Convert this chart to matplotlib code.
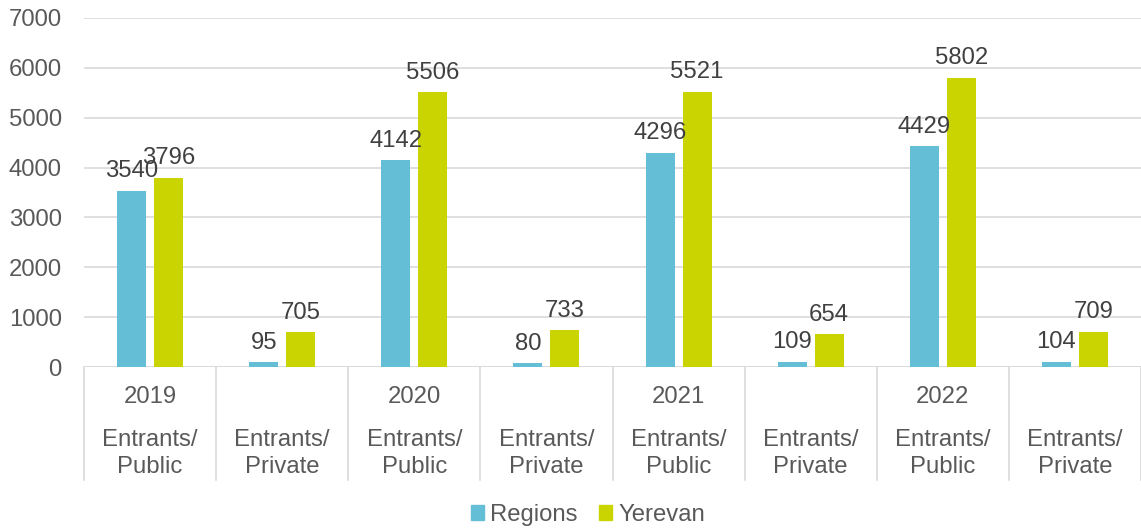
import matplotlib
matplotlib.use("Agg")
import matplotlib.pyplot as plt
import matplotlib.transforms as mtransforms
from matplotlib.patches import Patch
import numpy as np

plt.rcParams["font.family"] = ["Liberation Sans", "DejaVu Sans"]

# ── Data ──────────────────────────────────────────────────────────────
years = ["2019", "", "2020", "", "2021", "", "2022", ""]
groups = ["Entrants/\nPublic", "Entrants/\nPrivate"] * 4
regions = [3540, 95, 4142, 80, 4296, 109, 4429, 104]
yerevan = [3796, 705, 5506, 733, 5521, 654, 5802, 709]

C_REG = "#64BED6"
C_YER = "#C9D400"
GRID = "#D9D9D9"
TEXT = "#595959"
FS = 17.2

fig = plt.figure(figsize=(11.41, 5.28), dpi=100)
ax = fig.add_axes([84 / 1141, 161 / 528, 1 - 84 / 1141, 349 / 528])

x = np.arange(len(regions))
w = 0.22
gap = 0.03
b1 = ax.bar(x - w / 2 - gap, regions, w, color=C_REG, zorder=3)
b2 = ax.bar(x + w / 2 + gap, yerevan, w, color=C_YER, zorder=3)

for bars in (b1, b2):
    for rect in bars:
        h = rect.get_height()
        ax.annotate(f"{h:.0f}", (rect.get_x() + rect.get_width() / 2, h),
                    xytext=(0, 6), textcoords="offset points",
                    ha="center", va="bottom", fontsize=FS, color="#404040")

ax.set_xlim(-0.5, len(regions) - 0.5)
ax.set_ylim(0, 7000)
ax.set_yticks(range(0, 7001, 1000))
ax.tick_params(axis="y", length=0, pad=16, labelsize=FS, labelcolor=TEXT)
ax.set_xticks([])
ax.grid(axis="y", color=GRID, linewidth=1.2, zorder=0)
for s in ax.spines.values():
    s.set_visible(False)
ax.axhline(0, color=GRID, linewidth=1.2, zorder=2)

# two-level category axis with separators
trans = mtransforms.blended_transform_factory(ax.transData, ax.transAxes)
for i in range(len(regions) + 1):
    ax.plot([i - 0.5, i - 0.5], [0, -0.325], transform=trans, color=GRID,
            linewidth=1.2, clip_on=False)
for i, (yr, grp) in enumerate(zip(years, groups)):
    if yr:
        ax.text(i, -0.087, yr, transform=trans, ha="center", va="center",
                fontsize=FS, color=TEXT)
    ax.text(i, -0.248, grp, transform=trans, ha="center", va="center",
            fontsize=FS, color=TEXT, linespacing=1.3)

handles = [Patch(color=C_REG, label="Regions"), Patch(color=C_YER, label="Yerevan")]
fig.legend(handles=handles, loc="center", bbox_to_anchor=(588 / 1141, 13 / 528),
           ncol=2, frameon=False, fontsize=FS, labelcolor=TEXT,
           handlelength=0.55, handleheight=0.55, handletextpad=0.25, columnspacing=0.9)

fig.savefig("out.png", dpi=100)
